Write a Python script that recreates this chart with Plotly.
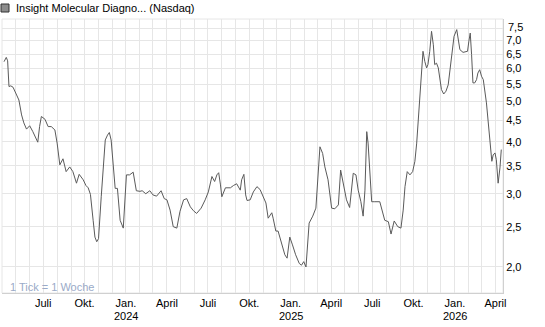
import plotly.graph_objects as go

dates = [
    "2023-04-05", "2023-04-10", "2023-04-13", "2023-04-16", "2023-04-20", "2023-04-25",
    "2023-05-03", "2023-05-08", "2023-05-14", "2023-05-19", "2023-05-25", "2023-06-01",
    "2023-06-08", "2023-06-14", "2023-06-19", "2023-06-23", "2023-06-27", "2023-07-05",
    "2023-07-12", "2023-07-19", "2023-07-27", "2023-08-01", "2023-08-07", "2023-08-14",
    "2023-08-21", "2023-08-29", "2023-09-05", "2023-09-13", "2023-09-19", "2023-09-28",
    "2023-10-04", "2023-10-09", "2023-10-14", "2023-10-20", "2023-10-24", "2023-10-28",
    "2023-11-01", "2023-11-07", "2023-11-16", "2023-11-21", "2023-11-25", "2023-11-29",
    "2023-12-05", "2023-12-08", "2023-12-13", "2023-12-19", "2023-12-26", "2023-12-30",
    "2024-01-02", "2024-01-09", "2024-01-17", "2024-01-24", "2024-02-01", "2024-02-06",
    "2024-02-14", "2024-02-23", "2024-03-01", "2024-03-09", "2024-03-19", "2024-03-26",
    "2024-04-01", "2024-04-08", "2024-04-15", "2024-04-23", "2024-04-30", "2024-05-08",
    "2024-05-15", "2024-05-23", "2024-05-30", "2024-06-06", "2024-06-16", "2024-06-25",
    "2024-07-02", "2024-07-10", "2024-07-16", "2024-07-21", "2024-07-25", "2024-07-29",
    "2024-08-01", "2024-08-09", "2024-08-20", "2024-08-27", "2024-09-03", "2024-09-11",
    "2024-09-14", "2024-09-19", "2024-09-23", "2024-09-26", "2024-10-03", "2024-10-10",
    "2024-10-18", "2024-10-25", "2024-11-01", "2024-11-07", "2024-11-12", "2024-11-20",
    "2024-11-23", "2024-11-29", "2024-12-04", "2024-12-12", "2024-12-19", "2024-12-24",
    "2024-12-30", "2025-01-05", "2025-01-12", "2025-01-20", "2025-01-25", "2025-01-30",
    "2025-02-04", "2025-02-11", "2025-02-19", "2025-02-26", "2025-03-02", "2025-03-07",
    "2025-03-13", "2025-03-18", "2025-03-25", "2025-04-02", "2025-04-09", "2025-04-17",
    "2025-04-22", "2025-04-28", "2025-05-05", "2025-05-12", "2025-05-20", "2025-05-26",
    "2025-05-31", "2025-06-06", "2025-06-11", "2025-06-15", "2025-06-19", "2025-06-22",
    "2025-06-30", "2025-07-07", "2025-07-18", "2025-07-29", "2025-08-06", "2025-08-12",
    "2025-08-19", "2025-08-27", "2025-09-03", "2025-09-08", "2025-09-12", "2025-09-17",
    "2025-09-23", "2025-09-29", "2025-10-04", "2025-10-08", "2025-10-11", "2025-10-15",
    "2025-10-19", "2025-10-22", "2025-10-26", "2025-10-30", "2025-11-02", "2025-11-06",
    "2025-11-10", "2025-11-14", "2025-11-17", "2025-11-21", "2025-11-25", "2025-11-28",
    "2025-12-02", "2025-12-07", "2025-12-12", "2025-12-17", "2025-12-21", "2025-12-25",
    "2025-12-30", "2026-01-05", "2026-01-08", "2026-01-12", "2026-01-19", "2026-01-29",
    "2026-02-01", "2026-02-04", "2026-02-07", "2026-02-10", "2026-02-14", "2026-02-18",
    "2026-02-21", "2026-02-25", "2026-03-01", "2026-03-05", "2026-03-12", "2026-03-16",
    "2026-03-20", "2026-03-24", "2026-03-27", "2026-03-31", "2026-04-03", "2026-04-07",
    "2026-04-11", "2026-04-14",
]

prices = [
    6.23, 6.38, 6.26, 5.43, 5.45, 5.41,
    5.18, 5.04, 4.64, 4.44, 4.29, 4.37,
    4.23, 4.08, 3.99, 4.35, 4.60, 4.53,
    4.35, 4.35, 4.27, 3.97, 3.52, 3.64,
    3.39, 3.48, 3.39, 3.18, 3.34, 3.24,
    3.14, 3.10, 2.99, 2.59, 2.36, 2.30,
    2.34, 2.95, 4.04, 4.15, 4.21, 4.04,
    3.36, 3.09, 3.09, 2.59, 2.48, 2.96,
    3.33, 3.33, 3.38, 3.05, 3.04, 3.05,
    3.00, 3.05, 2.98, 2.96, 3.05, 2.92,
    2.90, 2.74, 2.50, 2.48, 2.72, 2.90,
    2.92, 2.79, 2.73, 2.69, 2.77, 2.90,
    3.03, 3.30, 3.21, 3.33, 3.37, 3.15,
    2.95, 3.10, 3.10, 3.14, 3.17, 3.06,
    3.24, 3.34, 2.98, 2.89, 2.90, 3.03,
    3.12, 3.07, 2.95, 2.85, 2.62, 2.70,
    2.62, 2.44, 2.44, 2.28, 2.14, 2.10,
    2.36, 2.26, 2.14, 2.04, 2.02, 2.06,
    2.00, 2.55, 2.65, 2.77, 3.18, 3.89,
    3.75, 3.48, 3.24, 2.77, 2.76, 2.82,
    3.42, 3.18, 2.90, 2.78, 3.36, 3.33,
    3.06, 2.87, 2.65, 3.06, 4.23, 3.97,
    2.87, 2.87, 2.87, 2.59, 2.57, 2.40,
    2.58, 2.50, 2.48, 2.74, 3.12, 3.39,
    3.33, 3.39, 3.59, 3.97, 4.48, 5.19,
    5.91, 6.60, 6.24, 6.02, 6.13, 6.60,
    7.37, 6.84, 6.13, 6.18, 6.02, 5.69,
    5.34, 5.21, 5.29, 5.48, 6.02, 6.60,
    7.17, 7.44, 7.10, 6.66, 6.56, 6.60,
    6.98, 7.30, 6.48, 5.54, 5.54, 5.64,
    5.85, 5.96, 5.75, 5.64, 4.96, 4.48,
    4.01, 3.59, 3.72, 3.76, 3.62, 3.18,
    3.46, 3.83,
]

y_ticks = [2.0, 2.5, 3.0, 3.5, 4.0, 4.5, 5.0, 5.5, 6.0, 6.5, 7.0, 7.5]
y_tick_labels = ["2,0", "2,5", "3,0", "3,5", "4,0", "4,5", "5,0", "5,5", "6,0", "6,5", "7,0", ""]
top_tick_label = "7,5"

month_ticks = [f"{y}-{m:02d}-01" for y in (2023, 2024, 2025, 2026) for m in range(1, 13)]
month_ticks = [d for d in month_ticks if "2023-04-01" <= d <= "2026-04-01"]
quarter_names = {"01": "Jan.", "04": "April", "07": "Juli", "10": "Okt."}
month_labels = []
for d in month_ticks:
    m = d[5:7]
    if m in quarter_names and d != "2023-04-01":
        month_labels.append(quarter_names[m])
    else:
        month_labels.append("")
year_ticks = ["2024-01-01", "2025-01-01", "2026-01-01"]
year_labels = ["2024", "2025", "2026"]

PLOT_W, PLOT_H = 501, 274

fig = go.Figure()
fig.add_trace(go.Scatter(
    x=dates, y=prices, mode="lines",
    line=dict(color="#5a5a5a", width=1),
    showlegend=False, hoverinfo="skip",
))

font = "Liberation Sans, Arial, sans-serif"
annotations = [
    dict(text="Insight Molecular Diagno... (Nasdaq)", xref="paper", yref="paper",
         x=12 / PLOT_W, y=1 + 11 / PLOT_H, xanchor="left", yanchor="middle",
         showarrow=False, font=dict(family=font, size=11, color="#000000")),
    dict(text="1 Tick = 1 Woche", xref="paper", yref="paper",
         x=6 / PLOT_W, y=6 / PLOT_H, xanchor="left", yanchor="middle",
         showarrow=False, font=dict(family=font, size=11, color="#9aaac8")),
    dict(text=top_tick_label, xref="paper", yref="paper",
         x=1 + 3 / PLOT_W, y=1 - 8 / PLOT_H, xanchor="left", yanchor="middle",
         showarrow=False, font=dict(family=font, size=11, color="#000000")),
]
for yt, yl in zip(year_ticks, year_labels):
    annotations.append(dict(text=yl, x=yt, xref="x", yref="paper",
                            y=-23 / PLOT_H, xanchor="center", yanchor="middle",
                            showarrow=False, font=dict(family=font, size=11, color="#000000")))

fig.update_layout(
    width=545, height=327,
    margin=dict(l=2, r=42, t=19, b=34),
    paper_bgcolor="white", plot_bgcolor="white",
    font=dict(family=font, size=11, color="#000000"),
    xaxis=dict(
        range=["2023-03-31 12:00", "2026-04-17 19:00"],
        tickvals=month_ticks, ticktext=month_labels,
        showgrid=True, gridcolor="#e6e6e6", gridwidth=1,
        showline=True, linecolor="#d0d0d0", linewidth=1,
        ticks="", tickfont=dict(size=11, color="#000000"),
        zeroline=False, fixedrange=True,
    ),
    yaxis=dict(
        type="log", side="right",
        range=[0.2385, 0.8971],
        tickvals=y_ticks, ticktext=y_tick_labels,
        showgrid=True, gridcolor="#e6e6e6", gridwidth=1,
        showline=True, linecolor="#d0d0d0", linewidth=1,
        ticks="", tickfont=dict(size=11, color="#000000"),
        zeroline=False, fixedrange=True,
    ),
    shapes=[
        dict(type="rect", xref="paper", yref="paper", x0=0, x1=1, y0=0, y1=1,
             line=dict(color="#e6e6e6", width=1), layer="below"),
        dict(type="rect", xref="paper", yref="paper",
             x0=-1 / PLOT_W, x1=7 / PLOT_W, y0=1 + 7 / PLOT_H, y1=1 + 15 / PLOT_H,
             fillcolor="#8c8c8c", line=dict(color="#333333", width=1)),
    ],
    annotations=annotations,
)

fig.write_html("out.html")
